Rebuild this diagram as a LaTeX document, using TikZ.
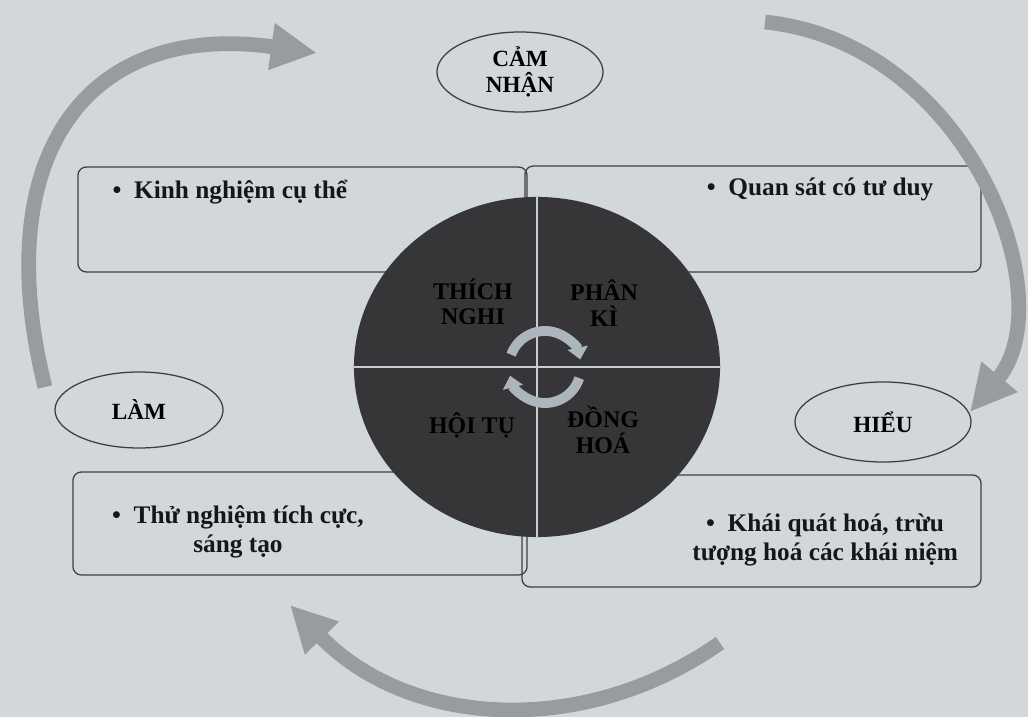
\documentclass[tikz,border=0pt]{standalone}
\usepackage{fontspec}
\setmainfont{Liberation Serif}
\usepackage{tikz}
\usetikzlibrary{arrows.meta,positioning,shapes.geometric}
\tikzset{
  every node/.append style={font=\bfseries},
}
\tikzset{
  panel/.style={draw=boxline, rounded corners=6pt, line width=0.9pt, inner sep=0pt},
  stage/.style={ellipse, draw=boxline, line width=0.9pt, inner sep=0pt, align=center,
    font=\fontsize{16.5}{18}\selectfont\bfseries},
  bigarrow/.style={draw=cyclegray, line width=10.5pt, -{Triangle[width=1.1cm,length=1.15cm]}}
}

\begin{document}
\begin{tikzpicture}[
    x=0.025cm, y=0.025cm,
    boxtext/.style={
        inner sep=0pt,
        align=center,
        text=inkblack,
        font=\fontsize{18}{20.5}\selectfont\bfseries
    },
    quadrant/.style={
        inner sep=0pt,
        align=center,
        text=black,
        font=\fontsize{17}{18}\selectfont\bfseries
    },
    swirl/.style={
        draw=swirlgray,
        line width=7pt,
        -{Triangle[width=0.5cm,length=0.3cm]}
    },
    divider/.style={
        draw=dividergray,
        line width=1.2pt
    }
]
% Color definitions
\definecolor{paper}{RGB}{210,215,219}
\definecolor{boxline}{RGB}{62,62,66}
\definecolor{inkblack}{RGB}{22,22,24}
\definecolor{discgray}{RGB}{54,54,57}
\definecolor{dividergray}{RGB}{200,204,208}
\definecolor{swirlgray}{RGB}{172,182,188}
\definecolor{cyclegray}{RGB}{152,156,160}

% Page
\fill[paper] (0,0) rectangle (1028,717);
\useasboundingbox (0,0) rectangle (1028,717);

% Panels
\node[panel, minimum width=11.225cm, minimum height=2.625cm] (kn) at (302.5,497.5) {};
\node[panel, minimum width=11.4cm, minimum height=2.65cm] (qs) at (753,498) {};
\node[panel, minimum width=11.35cm, minimum height=2.575cm] (tn) at (300,193.5) {};
\node[panel, minimum width=11.475cm, minimum height=2.8cm] (kq) at (751.5,186) {};

\node[boxtext, anchor=west] (knt) at ([xshift=0.875cm, yshift=-0.65cm]kn.north west) {•\enskip Kinh nghiệm cụ thể};
\node[boxtext, anchor=east] (qst) at ([xshift=-1.2cm, yshift=-0.6cm]qs.north east) {•\enskip Quan sát có tư duy};
\node[boxtext] (tnt) at ([xshift=-1.55cm, yshift=-0.21cm]tn.center) {•\enskip Thử nghiệm tích cực,\\sáng tạo};
\node[boxtext] (kqt) at ([xshift=1.84cm, yshift=-0.225cm]kq.center) {•\enskip Khái quát hoá, trừu\\tượng hoá các khái niệm};

% Disc with four styles
\node[ellipse, fill=discgray, minimum width=9.15cm, minimum height=8.5cm, inner sep=0pt] (disc) at (537,350) {};
\draw[divider] (disc.north) -- (disc.south);
\draw[divider] (disc.west) -- (disc.east);

\node[quadrant] (tng) at ([xshift=-1.6cm, yshift=1.625cm]disc.center) {THÍCH\\NGHI};
\node[quadrant] (pk) at ([xshift=1.675cm, yshift=1.6cm]disc.center) {PHÂN\\KÌ};
\node[quadrant] (ht) at ([xshift=-1.625cm, yshift=-1.45cm]disc.center) {HỘI TỤ};
\node[quadrant] (dh) at ([xshift=1.65cm, yshift=-1.575cm]disc.center) {ĐỒNG\\HOÁ};

\coordinate (hub) at ([xshift=0.2cm]disc.center);
\draw[swirl] (hub) ++(160:0.9cm) arc[start angle=160, end angle=12, radius=0.9cm];
\draw[swirl] (hub) ++(-18:0.9cm) arc[start angle=-18, end angle=-166, radius=0.9cm];

% Stages
\node[stage, minimum width=4.15cm, minimum height=2cm] (cam) at (520,645) {CẢM\\NHẬN};
\node[stage, minimum width=4.2cm, minimum height=1.9cm] (lam) at (139,307) {LÀM};
\node[stage, minimum width=4.4cm, minimum height=2cm] (hieu) at (883,295) {HIỂU};

% Outer cycle
\coordinate (lamTail) at (45,330);
\coordinate (camTip) at (317,664);
\coordinate (camTail) at (765,695);
\coordinate (hieuTip) at (970,305);
\coordinate (hieuTail) at (720,74);
\coordinate (lamTip) at (290,112);

\draw[bigarrow] (lamTail) to[out=104, in=172, looseness=1.4] (camTip);
\draw[bigarrow] (camTail) to[out=-6, in=50, out looseness=1.2, in looseness=0.85] (hieuTip);
\draw[bigarrow] (hieuTail) to[out=215, in=-46] (lamTip);
\end{tikzpicture}
\end{document}
